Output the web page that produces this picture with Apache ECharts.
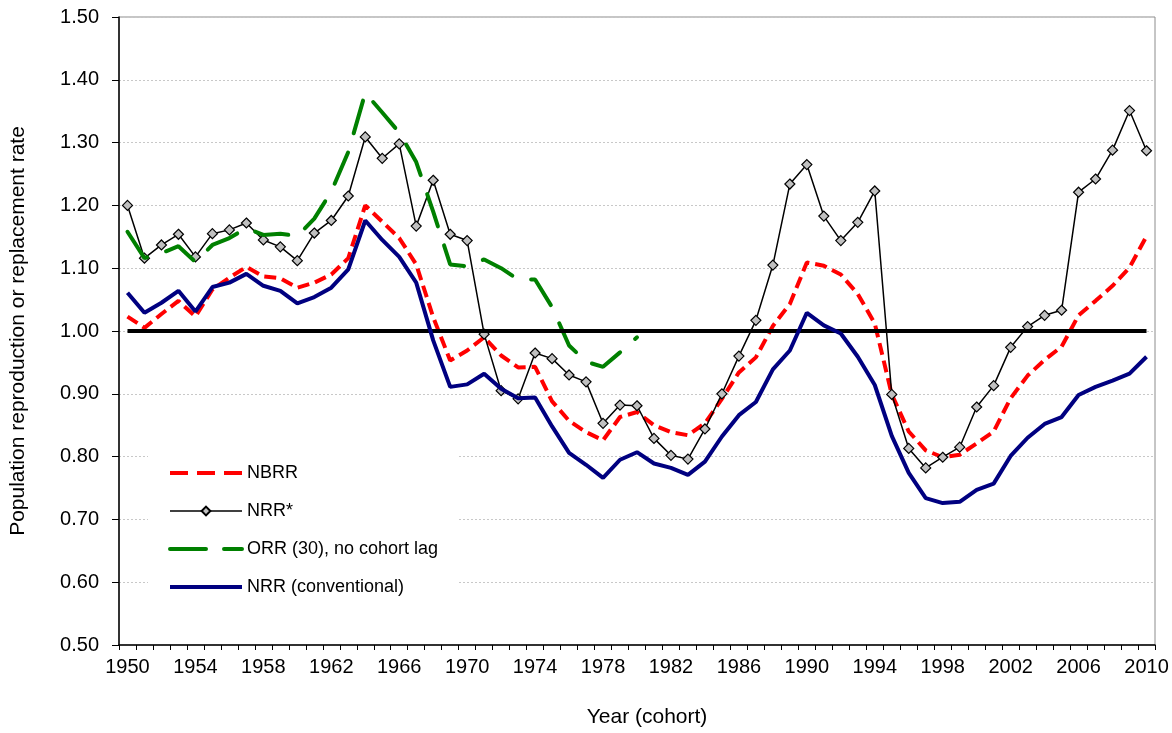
<!DOCTYPE html>
<html>
<head>
<meta charset="utf-8">
<style>
  html, body { margin: 0; padding: 0; background: #fff; }
  #chart { width: 1172px; height: 733px; }
</style>
<script src="https://cdn.jsdelivr.net/npm/echarts@6/dist/echarts.min.js"></script>
</head>
<body>
<div id="chart"></div>
<script>
var years = ['1950','1951','1952','1953','1954','1955','1956','1957','1958','1959',
  '1960','1961','1962','1963','1964','1965','1966','1967','1968','1969',
  '1970','1971','1972','1973','1974','1975','1976','1977','1978','1979',
  '1980','1981','1982','1983','1984','1985','1986','1987','1988','1989',
  '1990','1991','1992','1993','1994','1995','1996','1997','1998','1999',
  '2000','2001','2002','2003','2004','2005','2006','2007','2008','2009','2010'];

var nbrr = [1.023, 1.005, 1.027, 1.048, 1.023, 1.066, 1.085, 1.102, 1.087, 1.084,
  1.069, 1.077, 1.090, 1.116, 1.200, 1.174, 1.148, 1.106, 1.022, 0.953,
  0.969, 0.990, 0.961, 0.942, 0.943, 0.888, 0.857, 0.839, 0.826, 0.863,
  0.871, 0.850, 0.839, 0.834, 0.853, 0.892, 0.934, 0.958, 1.008, 1.043,
  1.109, 1.104, 1.090, 1.059, 1.012, 0.899, 0.840, 0.810, 0.799, 0.803,
  0.821, 0.840, 0.893, 0.929, 0.954, 0.975, 1.025, 1.048, 1.072, 1.101, 1.151];

var nrrStar = [1.200, 1.116, 1.137, 1.154, 1.118, 1.155, 1.161, 1.172, 1.145, 1.134,
  1.112, 1.156, 1.176, 1.215, 1.309, 1.275, 1.298, 1.167, 1.240, 1.154,
  1.144, 0.995, 0.905, 0.892, 0.965, 0.956, 0.930, 0.919, 0.853, 0.882,
  0.881, 0.829, 0.802, 0.796, 0.844, 0.900, 0.960, 1.017, 1.105, 1.234,
  1.265, 1.183, 1.144, 1.173, 1.223, 0.899, 0.813, 0.782, 0.799, 0.815,
  0.879, 0.913, 0.974, 1.007, 1.025, 1.033, 1.221, 1.242, 1.288, 1.351, 1.287];

// ORR series stops at 1980
var orr30 = [1.158, 1.116, 1.124, 1.135, 1.110, 1.137, 1.148, 1.164, 1.153, 1.155,
  1.151, 1.179, 1.222, 1.285, 1.379, 1.348, 1.316, 1.269, 1.190, 1.106,
  1.103, 1.114, 1.100, 1.082, 1.082, 1.038, 0.977, 0.951, 0.943, 0.966,
  0.990];

var nrrConv = [1.061, 1.029, 1.045, 1.064, 1.031, 1.070, 1.077, 1.091, 1.072, 1.064,
  1.044, 1.054, 1.069, 1.098, 1.176, 1.145, 1.118, 1.077, 0.985, 0.911,
  0.915, 0.932, 0.908, 0.893, 0.894, 0.848, 0.806, 0.787, 0.766, 0.795,
  0.807, 0.789, 0.782, 0.771, 0.792, 0.832, 0.866, 0.887, 0.939, 0.969,
  1.029, 1.009, 0.996, 0.959, 0.914, 0.833, 0.774, 0.734, 0.726, 0.728,
  0.747, 0.757, 0.801, 0.830, 0.852, 0.863, 0.898, 0.911, 0.921, 0.932, 0.959];

var replacementLevel = 1.0;

var font = 'Liberation Sans, Arial, sans-serif';
var noSymbol = { opacity: 0 };

var chart = echarts.init(document.getElementById('chart'), null, { renderer: 'canvas' });
chart.setOption({
  animation: false,
  backgroundColor: '#fff',
  grid: {
    left: 118, right: 17, top: 17, bottom: 82,
    show: true, borderColor: '#8c8c8c', borderWidth: 1, backgroundColor: 'transparent'
  },
  legend: {
    orient: 'vertical',
    left: 148, top: 445,
    padding: [19, 20, 13, 20],
    backgroundColor: '#fff',
    itemWidth: 72, itemHeight: 11, itemGap: 20,
    textStyle: { fontFamily: font, fontSize: 18, color: '#000' },
    data: [
      { name: 'NBRR', itemStyle: noSymbol, lineStyle: { color: '#ff0000', width: 4, type: [18, 9] } },
      { name: 'NRR*', lineStyle: { color: '#000', width: 1.5 } },
      { name: 'ORR (30), no cohort lag', itemStyle: noSymbol, lineStyle: { color: '#008000', width: 4, type: [36, 18], cap: 'round' } },
      { name: 'NRR (conventional)', itemStyle: noSymbol, lineStyle: { color: '#000080', width: 4 } }
    ]
  },
  xAxis: {
    type: 'category',
    data: years,
    boundaryGap: true,
    name: 'Year (cohort)',
    nameLocation: 'middle',
    nameGap: 62,
    nameTextStyle: { fontFamily: font, fontSize: 21, color: '#000', padding: [0, 0, 0, 20] },
    axisLine: { lineStyle: { color: '#000', width: 1.5 } },
    axisTick: { show: true, interval: 0, length: 5, lineStyle: { color: '#000' } },
    axisLabel: { interval: 3, margin: 12, fontFamily: font, fontSize: 20, color: '#000' },
    splitLine: { show: false }
  },
  yAxis: {
    type: 'value',
    min: 0.5, max: 1.5, interval: 0.1,
    name: 'Population reproduction or replacement rate',
    nameLocation: 'middle',
    nameGap: 90,
    nameTextStyle: { fontFamily: font, fontSize: 21, color: '#000' },
    axisLine: { show: true, lineStyle: { color: '#000', width: 1.5 } },
    axisTick: { show: true, length: 7, lineStyle: { color: '#000' } },
    axisLabel: {
      margin: 20, fontFamily: font, fontSize: 20, color: '#000',
      formatter: function(v) { return v.toFixed(2); }
    },
    splitLine: { show: true, lineStyle: { color: '#c8c8c8', type: [2, 2], width: 1 } }
  },
  series: [
    {
      name: 'NBRR', type: 'line', data: nbrr, z: 2,
      symbol: 'none',
      lineStyle: { color: '#ff0000', width: 4, type: [12, 6] },
      itemStyle: { color: '#ff0000' },
      markLine: {
        silent: true, symbol: 'none',
        label: { show: false },
        lineStyle: { color: '#000', width: 4, type: 'solid' },
        data: [[{ coord: [years[0], replacementLevel] }, { coord: [years[years.length - 1], replacementLevel] }]]
      }
    },
    {
      name: 'NRR*', type: 'line', data: nrrStar, z: 3,
      symbol: 'diamond', symbolSize: 10, showAllSymbol: true,
      lineStyle: { color: '#000', width: 1.5 },
      itemStyle: { color: '#c0c0c0', borderColor: '#000', borderWidth: 1.2 }
    },
    {
      name: 'ORR (30), no cohort lag', type: 'line', data: orr30, z: 4,
      symbol: 'none',
      lineStyle: { color: '#008000', width: 4, type: [34, 20], cap: 'round' },
      itemStyle: { color: '#008000' }
    },
    {
      name: 'NRR (conventional)', type: 'line', data: nrrConv, z: 5,
      symbol: 'none',
      lineStyle: { color: '#000080', width: 4 },
      itemStyle: { color: '#000080' }
    }
  ]
});
window.addEventListener('resize', function() { chart.resize(); });
</script>
</body>
</html>
